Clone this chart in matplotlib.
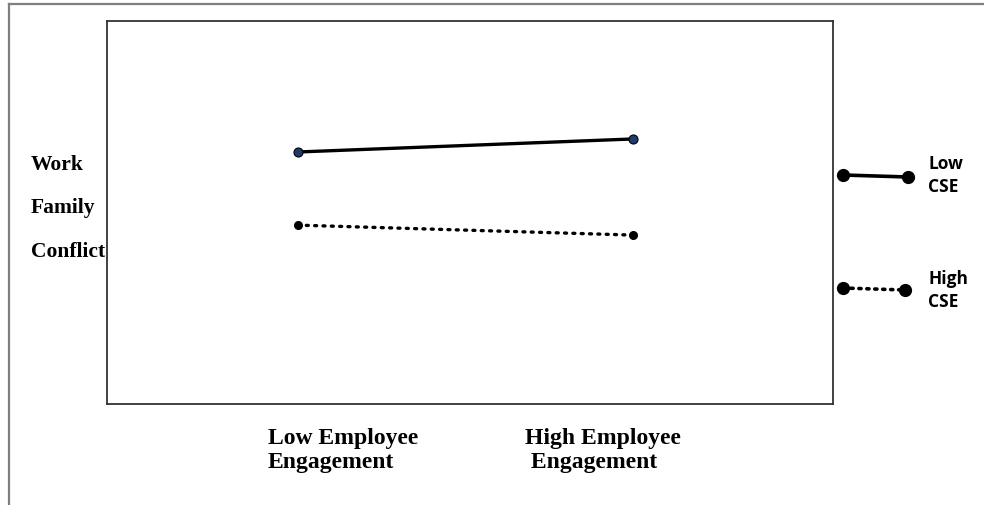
import matplotlib
matplotlib.use("Agg")
import matplotlib.pyplot as plt
from matplotlib.lines import Line2D

# ---- data ----
engagement_levels = ["Low Employee\nEngagement", "High Employee\n Engagement"]
low_cse_wfc = [6.58, 6.92]
high_cse_wfc = [4.67, 4.41]
y_label_words = ["Work", "Family", "Conflict"]
legend_labels = ["Low\nCSE", "High\nCSE"]

W, H = 984, 506
fig = plt.figure(figsize=(W / 100, H / 100), dpi=100)

def fx(px):
    return px / W

def fy(py):
    return 1 - py / H

# outer gray frame (top and left)
fig.add_artist(Line2D([fx(9), 1.0], [fy(5), fy(5)], color="#7f7f7f", lw=1.6))
fig.add_artist(Line2D([fx(9), fx(9)], [fy(5), 0.0], color="#7f7f7f", lw=1.6))

ax = fig.add_axes([fx(107), fy(405), fx(833) - fx(107), fy(22) - fy(405)])
x = [0, 1]
ax.plot(x, low_cse_wfc, color="black", lw=2.4, solid_capstyle="round",
        marker="o", ms=6.5, mfc="#1f3a6e", mec="black", mew=0.8, zorder=3)
ax.plot(x, high_cse_wfc, color="black", lw=2.4, dashes=(0.6, 1.9),
        dash_capstyle="round", marker="o", ms=5.5, mfc="black", mec="black", zorder=3)

ax.set_xlim(-191 / 335, (833 - 298) / 335)
ax.set_ylim(0, 10)
ax.set_xticks([])
ax.set_yticks([])
for s in ax.spines.values():
    s.set_color("#333333")
    s.set_linewidth(1.3)

serif = ["Liberation Serif", "DejaVu Serif"]
# y label words
for word, py in zip(y_label_words, [165, 208, 252]):
    fig.text(fx(31), fy(py), word, family=serif, weight="bold", fontsize=15.5,
             ha="left", va="center")

# x category labels
for lab, px in zip(engagement_levels, [268, 525]):
    fig.text(fx(px), fy(428), lab, family=serif, weight="bold", fontsize=17,
             ha="left", va="top", linespacing=1.2)

# custom legend on the right
leg_rows = [((843, 176), (908, 178), "-", 163), ((843, 289), (905, 291), ":", 278)]
for (p1, p2, ls, ty), lab in zip(leg_rows, legend_labels):
    kw = dict(color="black", lw=2.6, marker="o", ms=8.5, mfc="black", mec="black")
    if ls == "-":
        ln = Line2D([fx(p1[0]), fx(p2[0])], [fy(p1[1]), fy(p2[1])], **kw)
    else:
        ln = Line2D([fx(p1[0]), fx(p2[0])], [fy(p1[1]), fy(p2[1])],
                    dashes=(0.6, 1.6), dash_capstyle="round", **kw)
    fig.add_artist(ln)
    fig.text(fx(928), fy(ty - 8), lab, family=["Open Sans", "DejaVu Sans"],
             weight="bold", fontsize=12.5, ha="left", va="top", linespacing=1.35)

fig.savefig("out.png", dpi=100, facecolor="white")
